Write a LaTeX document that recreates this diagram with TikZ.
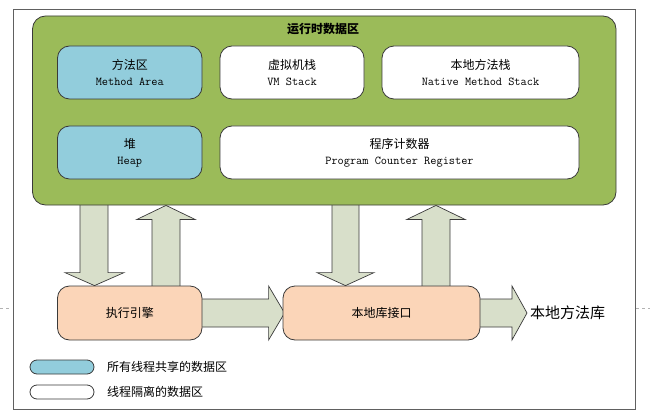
\documentclass[tikz,border=0pt]{standalone}
\usepackage{fontspec}
\setmainfont{Liberation Sans}
\newfontfamily\cjk{Noto Sans CJK SC}
\usetikzlibrary{calc,backgrounds}
\definecolor{areagreen}{HTML}{9BBB59}
\definecolor{shblue}{HTML}{92CDDC}
\definecolor{peach}{HTML}{FBD5B8}
\definecolor{arrowfill}{HTML}{D8DFCA}
\definecolor{boxline}{HTML}{3A3A3A}
\definecolor{framegray}{HTML}{606060}
\begin{document}
\begin{tikzpicture}[x=1pt,y=-1pt,
  areabox/.style={draw=boxline, line width=0.8pt, fill=areagreen, rounded corners=13pt, inner sep=0pt},
  membox/.style={draw=boxline, line width=0.8pt, rounded corners=12pt, minimum height=53pt, inner sep=0pt, align=center, font=\cjk\fontsize{12}{16}\selectfont},
  shared/.style={membox, fill=shblue},
  private/.style={membox, fill=white},
  engine/.style={membox, fill=peach, minimum height=54pt},
  legendbox/.style={draw=boxline, line width=0.8pt, rounded corners=7pt, minimum width=64pt, minimum height=14pt, inner sep=0pt},
  legendtext/.style={anchor=west, inner sep=0pt, font=\cjk\fontsize{12}{15}\selectfont},
  blockarrow/.style={fill=arrowfill, draw=boxline, line width=0.7pt, line join=miter}
]
\useasboundingbox (0,0) rectangle (650,417);
\newcommand\entext[1]{{\ttfamily\fontsize{12}{16}\selectfont #1}}
% outer frame
\draw[framegray, line width=0.8pt] (13,9) rectangle (635,409);
\draw[gray!60, dashed, line width=0.6pt] (0,308) -- (12,308);
\draw[gray!60, dashed, line width=0.6pt] (636,308) -- (650,308);
% runtime data area
\node[areabox, minimum width=583.5pt, minimum height=189pt] (area) at (324.25,110.5) {};
\node[font=\cjk\bfseries\fontsize{12}{14}\selectfont, inner sep=0pt] (title) at (323,29) {运行时数据区};
\node[shared, minimum width=144.5pt] (method) at (129.75,72.5) {方法区\\\entext{Method Area}};
\node[private, minimum width=144pt] (vm) at (292,72.5) {虚拟机栈\\\entext{VM Stack}};
\node[private, minimum width=197pt] (nstack) at (480.5,72.5) {本地方法栈\\\entext{Native Method Stack}};
\node[shared, minimum width=144.5pt] (heap) at (129.75,152.5) {堆\\\entext{Heap}};
\node[private, minimum width=359pt] (pc) at (399.5,152.5) {程序计数器\\\entext{Program Counter Register}};
% execution engine and native interface
\node[engine, minimum width=144.5pt] (exec) at (129.75,313) {执行引擎};
\node[engine, minimum width=197pt] (nif) at (381.5,313) {本地库接口};
\coordinate (libtip) at (527,313);
\node[anchor=west, inner sep=0pt, font=\cjk\fontsize{15}{18}\selectfont] (lib) at (530,313) {本地方法库};
% legend
\node[legendbox, fill=shblue] (lgshared) at (62,367) {};
\node[legendtext] (lgsharedtext) at (107,367) {所有线程共享的数据区};
\node[legendbox, fill=white] (lgprivate) at (62,392) {};
\node[legendtext] (lgprivatetext) at (107,392) {线程隔离的数据区};
% block arrows
\begin{scope}[on background layer]
% down: area -> exec
\draw[blockarrow] let \p1=(area.south), \p2=(exec.north) in
  (80pt,\y1+3pt) -- (80pt,\y2+13pt) -- (65pt,\y2+13pt) -- (94.5pt,\y2) -- (124pt,\y2+13pt) -- (108pt,\y2+13pt) -- (108pt,\y1+3pt);
% up: exec -> area
\draw[blockarrow] let \p1=(area.south), \p2=(exec.north) in
  (152pt,\y2-3pt) -- (152pt,\y1-14pt) -- (137pt,\y1-14pt) -- (166pt,\y1) -- (195pt,\y1-14pt) -- (180pt,\y1-14pt) -- (180pt,\y2-3pt);
% down: area -> native interface
\draw[blockarrow] let \p1=(area.south), \p2=(nif.north) in
  (332pt,\y1+3pt) -- (332pt,\y2+13pt) -- (317pt,\y2+13pt) -- (345.5pt,\y2) -- (374pt,\y2+13pt) -- (359pt,\y2+13pt) -- (359pt,\y1+3pt);
% up: native interface -> area
\draw[blockarrow] let \p1=(area.south), \p2=(nif.north) in
  (422pt,\y2-3pt) -- (422pt,\y1-14pt) -- (407pt,\y1-14pt) -- (436pt,\y1) -- (465pt,\y1-14pt) -- (450pt,\y1-14pt) -- (450pt,\y2-3pt);
% right: exec -> native interface
\draw[blockarrow] let \p1=(exec.east), \p2=(nif.west) in
  (\x1-3pt,\y1+14pt) -- (\x2-14pt,\y1+14pt) -- (\x2-14pt,\y1+27pt) -- (\x2+2pt,\y1) -- (\x2-14pt,\y1-27pt) -- (\x2-14pt,\y1-14pt) -- (\x1-3pt,\y1-14pt);
% right: native interface -> native library
\draw[blockarrow] let \p1=(nif.east), \p2=(libtip) in
  (\x1-3pt,\y1+14pt) -- (\x2-15pt,\y1+14pt) -- (\x2-15pt,\y1+27pt) -- (\x2,\y1) -- (\x2-15pt,\y1-27pt) -- (\x2-15pt,\y1-14pt) -- (\x1-3pt,\y1-14pt);
\end{scope}
\end{tikzpicture}
\end{document}
